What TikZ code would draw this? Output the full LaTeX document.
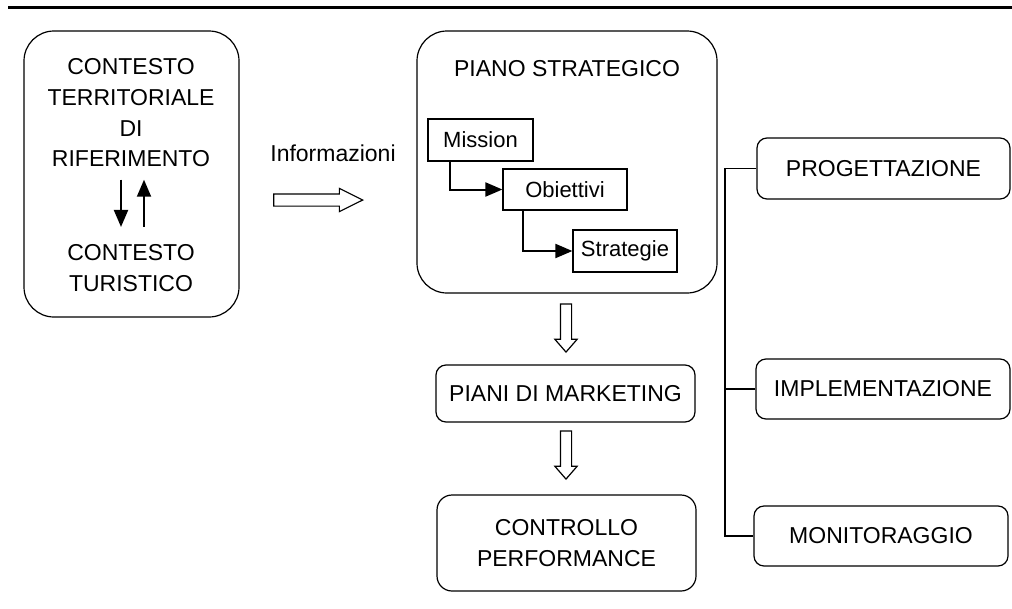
\documentclass[tikz,border=0pt]{standalone}
\usepackage{fontspec}
\setmainfont{Liberation Sans}
\usetikzlibrary{arrows.meta, shapes.arrows, calc}

\begin{document}
\begin{tikzpicture}[x=1pt, y=-1pt]
	\tikzstyle{bigbox} = [draw, line width=1.2pt, rounded corners=30pt]
	\tikzstyle{box} = [draw, line width=1.2pt, rounded corners=10pt, align=center, font=\fontsize{23}{30.7}\selectfont]
	\tikzstyle{sbox} = [draw, line width=1.2pt, inner sep=0pt, font=\fontsize{22}{26}\selectfont]
	\tikzstyle{txt} = [align=center, font=\fontsize{23}{30.7}\selectfont]
	\tikzstyle{hollow} = [draw, line width=1.2pt, single arrow, inner xsep=0pt, inner ysep=5pt, single arrow head extend=5.5pt, anchor=tip]
	\tikzstyle{arr} = [line width=2pt, -{Triangle[length=17pt, width=14pt]}]
	\tikzstyle{bus} = [line width=1.2pt]
	\useasboundingbox (0,0) rectangle (1012,608);
	\draw[line width=3pt] (8,7) -- (1012,7);
	
	% contesto
	\node[bigbox, minimum width=215pt, minimum height=286pt] (ctx) at (131.5,174) {};
	\node[txt] (terr) at (131,113) {CONTESTO\\TERRITORIALE\\DI\\RIFERIMENTO};
	\node[txt] (tur) at (131,268) {CONTESTO\\TURISTICO};
	\draw[arr, shorten <=9pt, shorten >=14pt] ([xshift=-10pt]terr.south) -- ([xshift=-10pt]tur.north);
	\draw[arr, shorten <=14pt, shorten >=9pt] ([xshift=13pt]tur.north) -- ([xshift=13pt]terr.south);
	
	\node[txt] (info) at (333,153) {Informazioni};
	\node[hollow, inner ysep=5.5pt, minimum height=89pt, single arrow tip angle=53] (infoarr) at (364,200) {};
	
	% piano strategico
	\node[bigbox, minimum width=300pt, minimum height=262pt] (plan) at (567,162) {};
	\node[txt] (plantitle) at (567,68.5) {PIANO STRATEGICO};
	\node[sbox, minimum width=105pt, minimum height=42pt] (mission) at (480.5,140) {Mission};
	\node[sbox, minimum width=124pt, minimum height=41pt] (obj) at (565,189.5) {Obiettivi};
	\node[sbox, minimum width=104pt, minimum height=42pt] (strat) at (625,251) {Strategie};
	\draw[arr] ([xshift=-30.5pt]mission.south) |- (obj.west);
	\draw[arr] ([xshift=-42pt]obj.south) |- (strat.west);
	
	\node[hollow, rotate=-90, single arrow tip angle=82, minimum height=48pt] (down1) at (566,353) {};
	\node[box, minimum width=259pt, minimum height=57pt] (mkt) at (565.5,393.5) {PIANI DI MARKETING};
	\node[hollow, rotate=-90, single arrow tip angle=82, minimum height=48pt] (down2) at (566,480) {};
	\node[box, rounded corners=15pt, minimum width=259pt, minimum height=96pt] (perf) at (566.5,543) {CONTROLLO\\PERFORMANCE};
	
	% fasi
	\coordinate (bus) at (725,0);
	\node[box, minimum width=253pt, minimum height=61pt] (prog) at (883.5,168.5) {PROGETTAZIONE};
	\node[box, minimum width=254pt, minimum height=60pt] (impl) at (883,389) {IMPLEMENTAZIONE};
	\node[box, minimum width=254pt, minimum height=60pt] (mon) at (881,536) {MONITORAGGIO};
	\draw[bus] (prog.west) -- (prog.west -| bus) |- (mon.west);
	\draw[bus] (impl.west) -- (impl.west -| bus);
\end{tikzpicture}
\end{document}
